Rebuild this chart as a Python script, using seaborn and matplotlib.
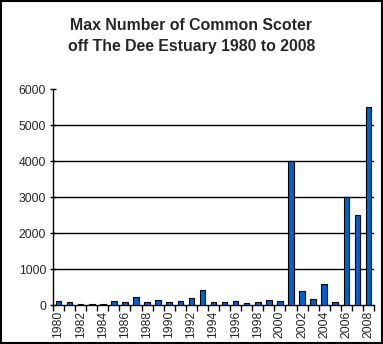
import matplotlib
matplotlib.use("Agg")
import matplotlib.pyplot as plt
import seaborn as sns
import pandas as pd
import numpy as np
from matplotlib.patches import Rectangle

years = [str(y) for y in range(1980, 2009)]
counts = [120, 90, 30, 30, 30, 120, 90, 220, 90, 140, 90, 120, 195, 415,
          90, 90, 120, 55, 90, 140, 120, 4000, 390, 165, 585, 90, 3000, 2500, 5500]
yticks = [0, 1000, 2000, 3000, 4000, 5000, 6000]
title = "Max Number of Common Scoter\noff The Dee Estuary 1980 to 2008"

sns.set_theme(style="white")
plt.rcParams['font.family'] = ['Liberation Sans', 'DejaVu Sans']

df = pd.DataFrame({"year": years, "count": counts})

fig = plt.figure(figsize=(3.83, 3.44), dpi=100)
ax = fig.add_axes([53/383, 1-305/344, (374-53)/383, (305-89)/344])

sns.barplot(data=df, x="year", y="count", color="#0060CC", saturation=1,
            width=0.5, edgecolor="black", linewidth=0.8, ax=ax, zorder=3)

ax.set_ylim(0, 6000)
ax.set_xlim(-0.5, len(years) - 0.5)
ax.set_yticks(yticks)
ax.set_yticklabels([str(t) for t in yticks], fontsize=8.8)
for t in yticks[1:-1]:
    ax.axhline(t, color="black", linewidth=1, zorder=1)

idx = np.arange(len(years))
ax.set_xticks(idx[::2])
ax.set_xticklabels(years[::2], rotation=90, fontsize=8.8)
ax.set_xticks(np.arange(-0.5, len(years), 1.0), minor=True)
ax.tick_params(axis="x", which="major", length=0, pad=4)
ax.tick_params(axis="x", which="minor", length=4, width=1, direction="out", color="black", bottom=True)
ax.tick_params(axis="y", which="major", length=4, width=1, direction="inout", color="black", left=True, pad=3)
ax.set_xlabel("")
ax.set_ylabel("")

for s in ["top", "right"]:
    ax.spines[s].set_visible(False)
for s in ["left", "bottom"]:
    ax.spines[s].set_color("black")
    ax.spines[s].set_linewidth(1)

fig.text(0.5, 1 - 36/344, title, ha="center", va="center", fontsize=11.4,
         fontweight="bold", linespacing=1.55)
fig.patches.append(Rectangle((0.0015, 0.0015), 0.997, 0.997, transform=fig.transFigure,
                             fill=False, edgecolor="black", linewidth=1.5))
fig.savefig("out.png", dpi=100)
